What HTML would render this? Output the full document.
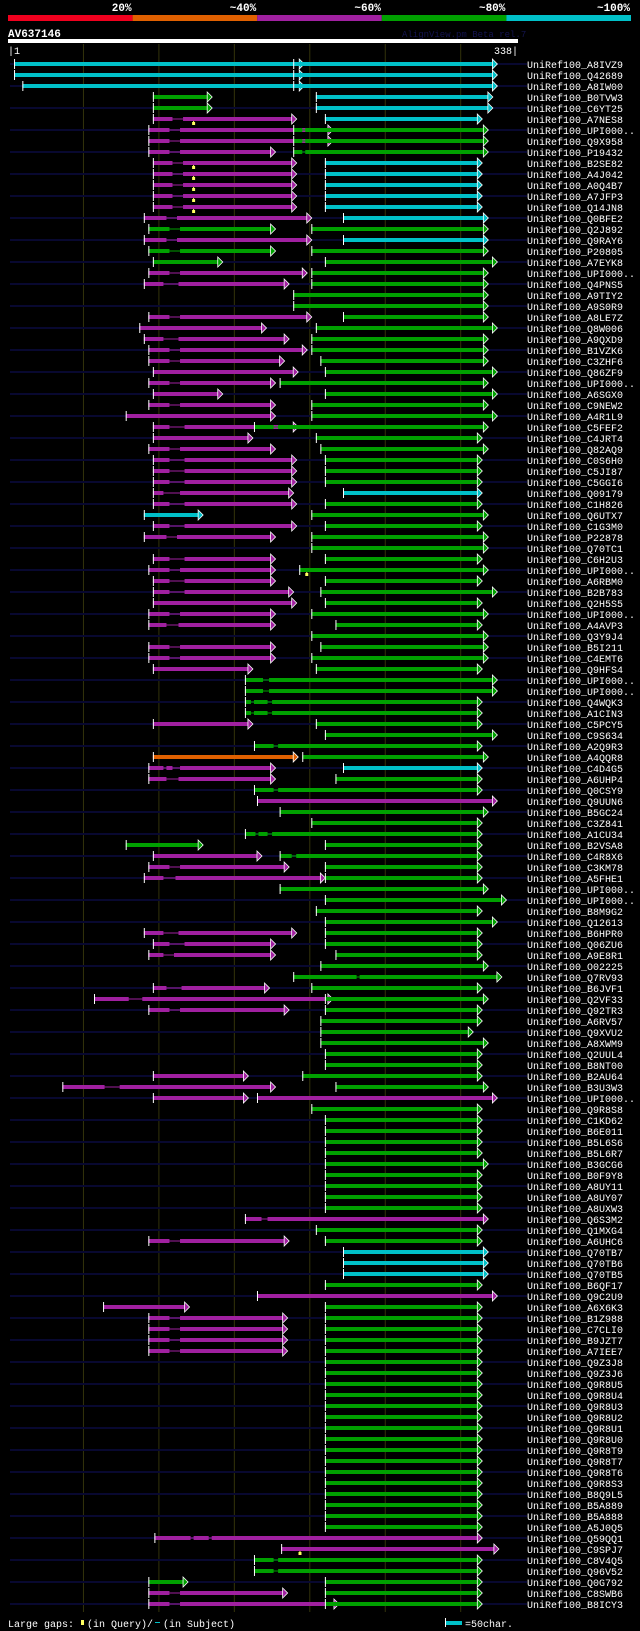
<!DOCTYPE html>
<html><head><meta charset="utf-8"><style>
html,body{margin:0;padding:0;background:#000;}
svg{display:block;}
text{font-family:"Liberation Mono",monospace;}
</style></head><body>
<svg id="chart" width="640" height="1631" viewBox="0 0 640 1631" xmlns="http://www.w3.org/2000/svg">
<rect width="640" height="1631" fill="#000"/>
<g id="header"></g>
<text x="8" y="37" fill="#fff" font-size="11" font-weight="bold">AV637146</text>
<text x="402" y="37" fill="#141450" font-size="9">AlignView.pm Beta rel.7</text>
<rect x="8" y="39" width="510" height="4" fill="#fff"/>
<text x="8" y="54" fill="#fff" font-size="10">|1</text>
<text x="518" y="54" fill="#fff" font-size="10" text-anchor="end">338|</text>
<g id="grid"></g>
<g id="rows"></g>
<g id="legend">
<text x="8" y="1627" fill="#fff" font-size="10">Large gaps:</text>
<rect x="81" y="1620" width="3" height="5" fill="#ffff60"/>
<text x="87" y="1627" fill="#fff" font-size="10">(in Query)/</text>
<rect x="155" y="1622" width="5" height="1" fill="#00c0c8"/>
<text x="163" y="1627" fill="#fff" font-size="10">(in Subject)</text>
<rect x="445" y="1618" width="1" height="9" fill="#fff"/>
<rect x="446" y="1621" width="16" height="4" fill="#00c0c8"/>
<text x="465" y="1627" fill="#fff" font-size="10">=50char.</text>
</g>
</svg>
<script>
const scaleLabels = ["20%","~40%","~60%","~80%","~100%"];
const scaleColors = ["#f0001e","#e06000","#a020a0","#00a000","#00c0c8"];
const gridTicks = [50,100,150,200,250,300];
const names = ["A8IVZ9","Q42689","A8IW00","B0TVW3","C6YT25","A7NES8","UPI000..","Q9X958","P19432","B2SE82","A4J042","A0Q4B7","A7JFP3","Q14JN8","Q0BFE2","Q2J892","Q9RAY6","P20805","A7EYK8","UPI000..","Q4PNS5","A9TIY2","A9S0R9","A8LE7Z","Q8W006","A9QXD9","B1VZK6","C3ZHF6","Q86ZF9","UPI000..","A6SGX0","C9NEW2","A4R1L9","C5FEF2","C4JRT4","Q82AQ9","C0S6H0","C5JI87","C5GGI6","Q09179","C1H826","Q6UTX7","C1G3M0","P22878","Q70TC1","C6H2U3","UPI000..","A6RBM0","B2B783","Q2H5S5","UPI000..","A4AVP3","Q3Y9J4","B5I211","C4EMT6","Q9HFS4","UPI000..","UPI000..","Q4WQK3","A1CIN3","C5PCY5","C9S634","A2Q9R3","A4QQR8","C4D4G5","A6UHP4","Q0CSY9","Q9UUN6","B5GC24","C3Z841","A1CU34","B2VSA8","C4R8X6","C3KM78","A5FHE1","UPI000..","UPI000..","B8M9G2","Q12613","B6HPR0","Q06ZU6","A9E8R1","O02225","Q7RV93","B6JVF1","Q2VF33","Q92TR3","A6RV57","Q9XVU2","A8XWM9","Q2UUL4","B8NT00","B2AU64","B3U3W3","UPI000..","Q9R8S8","C1KD62","B6E011","B5L6S6","B5L6R7","B3GCG6","B0F9Y8","A8UY11","A8UY07","A8UXW3","Q6S3M2","Q1MXG4","A6UHC6","Q70TB7","Q70TB6","Q70TB5","B6QF17","Q9C2U9","A6X6K3","B1Z988","C7CLI0","B9JZT7","A7IEE7","Q9Z3J8","Q9Z3J6","Q9R8U5","Q9R8U4","Q9R8U3","Q9R8U2","Q9R8U1","Q9R8U0","Q9R8T9","Q9R8T7","Q9R8T6","Q9R8S3","B8Q9L5","B5A889","B5A888","A5J0Q5","Q59QQ1","C9SPJ7","C8V4Q5","Q96V52","Q0G792","C8SWB6","B8ICY3"];
const A=[["p",[96,109],[116,188]],["c",[210,311]]];
const B=[["p",[93,107],[114,212]],["g",[189,195],[197,315]]];
const C=[["p",[96,107],[117,188]],["g",[210,311]]];
const D=[["p",[93,107],[114,174]],["g",[201,315]]];
const G=[["g",[210,311]]];
const H=[["p",[93,107],[114,182]],["g",[210,311]]];
const hits = [
[["c",[4,193]],["c",[189,321]]],
[["c",[4,193]],["c",[189,321]]],
[["c",[9.5,193]],["c",[189,321]]],
[["g",[96,132]],["c",[204,318]]],
[["g",[96,132]],["c",[204,318]]],
A,B,B,
[["p",[93,107],[114,174]],["g",[189,195],[197,315]]],
A,A,A,A,A,
[["p",[90,105],[112,198]],["c",[222,315]]],
[["g",[93,107],[114,174]],["g",[201,315]]],
[["p",[90,105],[112,198]],["c",[222,315]]],
[["g",[93,107],[114,174]],["g",[201,315]]],
[["g",[96,139]],["g",[210,321]]],
[["p",[93,107],[114,195]],["g",[201,315]]],
[["p",[90,103],[113,183]],["g",[201,315]]],
[["g",[189,315]]],
[["g",[189,315]]],
[["p",[93,107],[114,198]],["g",[222,315]]],
[["p",[87,168]],["g",[204,321]]],
[["p",[90,103],[113,183]],["g",[201,315]]],
[["p",[93,107],[114,195]],["g",[201,315]]],
[["p",[93,107],[114,180]],["g",[207,315]]],
[["p",[96,189]],["g",[210,321]]],
[["p",[93,107],[114,174]],["g",[180,315]]],
[["p",[96,139]],["g",[210,321]]],
D,
[["p",[78,174]],["g",[201,321]]],
[["p",[96,107],[117,189]],["g",[163,176],[179,315]]],
[["p",[96,159]],["g",[204,311]]],
[["p",[93,107],[114,174]],["g",[207,315]]],
C,C,C,
[["p",[96,103],[114,186]],["c",[222,311]]],
C,
[["c",[90,126]],["g",[201,315]]],
C,
[["p",[90,105],[112,174]],["g",[201,315]]],
[["g",[201,315]]],
[["p",[96,107],[117,174]],["g",[210,311]]],
[["p",[93,107],[114,174]],["g",[193,315]]],
[["p",[96,107],[117,174]],["g",[210,311]]],
[["p",[96,107],[117,186]],["g",[207,321]]],
[["p",[96,188]],["g",[210,311]]],
D,
[["p",[93,105],[113,174]],["g",[217,311]]],
[["g",[201,315]]],
[["p",[93,107],[114,174]],["g",[207,315]]],
D,
[["p",[96,159]],["g",[204,311]]],
[["g",[157,169],[173,321]]],
[["g",[157,169],[173,321]]],
[["g",[157,161],[163,172],[175,311]]],
[["g",[157,161],[163,172],[175,311]]],
[["p",[96,159]],["g",[204,311]]],
[["g",[210,321]]],
[["g",[163,176],[179,311]]],
[["o",[96,189]],["g",[195,315]]],
[["p",[93,103],[105,109],[114,174]],["c",[222,311]]],
[["p",[93,105],[113,174]],["g",[217,311]]],
[["g",[163,176],[179,311]]],
[["p",[165,321]]],
[["g",[180,315]]],
[["g",[201,311]]],
[["g",[157,164],[166,172],[175,311]]],
[["g",[78,126]],["g",[210,311]]],
[["p",[96,165]],["g",[180,188],[191,311]]],
[["p",[93,107],[114,183]],["g",[210,311]]],
[["p",[90,103],[111,207]],["g",[210,311]]],
[["g",[180,315]]],
[["g",[210,327]]],
[["g",[204,311]]],
[["g",[210,321]]],
[["p",[90,103],[113,188]],["g",[210,311]]],
[["p",[96,107],[117,174]],["g",[210,311]]],
[["p",[93,103],[110,174]],["g",[217,311]]],
[["g",[207,315]]],
[["g",[189,231],[233,324]]],
[["p",[96,105],[115,170]],["g",[201,311]]],
[["p",[57,80],[89,212]],["g",[210,315]]],
[["p",[93,107],[114,183]],["g",[210,311]]],
[["g",[207,311]]],
[["g",[207,305]]],
[["g",[207,315]]],
G,G,
[["p",[96,156]],["g",[195,311]]],
[["p",[36,64],[74,174]],["g",[217,315]]],
[["p",[96,156]],["p",[165,321]]],
[["g",[201,311]]],
G,G,G,G,[["g",[210,315]]],G,G,G,G,
[["p",[157,168],[172,315]]],
[["g",[204,311]]],
[["p",[93,107],[114,183]],["g",[210,311]]],
[["c",[222,315]]],[["c",[222,315]]],[["c",[222,315]]],
G,
[["p",[165,321]]],
[["p",[63,117]],["g",[210,311]]],
H,H,H,H,
G,G,G,G,G,G,G,G,G,G,G,G,G,G,G,G,
[["p",[97,121],[123,133],[135,311]]],
[["p",[181,322]]],
[["g",[163,176],[179,311]]],
[["g",[163,176],[179,311]]],
[["g",[93,116]],["g",[210,311]]],
H,
[["p",[93,107],[114,216]],["g",[210,311]]]
];
const gapMarkers = [[6,123],[10,123],[11,123],[12,123],[13,123],[14,123],[47,198],[136,193.5]];

const colorMap = {p:"#a020a0",g:"#00a000",c:"#00c0c8",o:"#e06000"};
const NS = "http://www.w3.org/2000/svg";
const xScale = r => 8 + r * 1.509;
const yRow = i => 64 + i * 11;
function mk(tag, attrs, parent){ const e=document.createElementNS(NS,tag); for(const k in attrs) e.setAttribute(k,attrs[k]); parent.appendChild(e); return e; }

const header = document.getElementById('header');
scaleColors.forEach((col,i)=>{
  const r = mk('rect',{x:8+i*124.6,y:15,width:124.6,height:6,fill:col},header);
  
  
  const t = mk('text',{x:8+(i+1)*124.6-1,y:11,fill:'#fff','font-size':11,'font-weight':'bold','text-anchor':'end'},header);
  t.textContent = scaleLabels[i];
  
  
});

const grid = document.getElementById('grid');
gridTicks.forEach(v=>{
  const l = mk('rect',{x:xScale(v)-0.5,y:44,width:1,height:1568,fill:'#33330a'},grid);
  
  
});

const rowsG = document.getElementById('rows');
names.forEach((nm,i)=>{
  const y = yRow(i);
  const g = mk('g',{},rowsG);
  
  
  if(i%2===0){
    const n = mk('rect',{x:10,y:y-1,width:517,height:2,fill:'#080830'},g);
    
    
  }
  (hits[i]||[]).forEach(h=>{
    const col = colorMap[h[0]];
    const segs = h.slice(1);
    const hg = mk('g',{},g);
    
    
    const s0 = xScale(segs[0][0]), eN = xScale(segs[segs.length-1][1]);
    mk('rect',{x:s0,y:y-0.5,width:eN-s0,height:1,fill:col},hg);
    segs.forEach(s=>{
      mk('rect',{x:xScale(s[0]),y:y-2,width:xScale(s[1])-xScale(s[0]),height:4,fill:col},hg);
    });
    mk('rect',{x:s0,y:y-5,width:1,height:10,fill:'#fff'},hg);
    mk('polygon',{points:`${eN},${y-5} ${eN+5},${y} ${eN},${y+5}`,fill:col,stroke:'#fff','stroke-width':0.8},hg);
  });
  const t = mk('text',{x:527,y:y+4,fill:'#fff','font-size':10},g);
  t.textContent = 'UniRef100_'+nm;
  
  
});
gapMarkers.forEach(m=>{
  const y = yRow(m[0]-1), x = xScale(m[1]);
  const r = mk('rect',{x:x-1.5,y:y+3,width:3,height:3,fill:'#ffff60'},rowsG);
  
  
  mk('rect',{x:x-0.5,y:y+2,width:1,height:2,fill:'#ffff60'},rowsG);
});
</script>
</body></html>
